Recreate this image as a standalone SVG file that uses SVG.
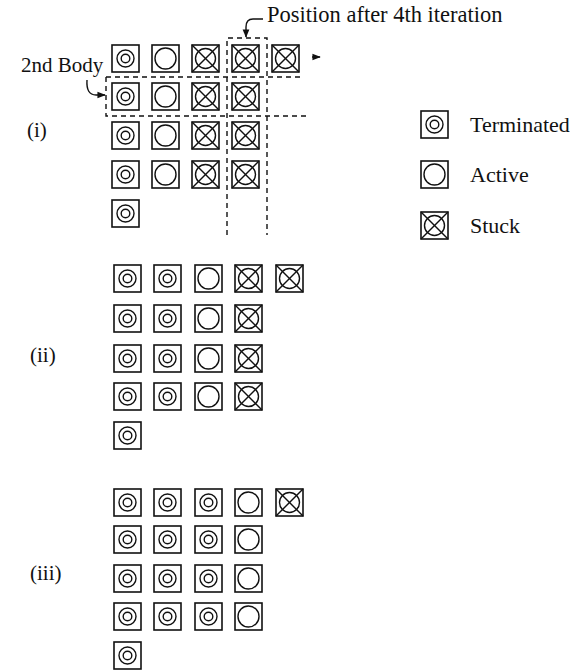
<svg xmlns="http://www.w3.org/2000/svg" width="576" height="671" viewBox="0 0 576 671">
  <style>
    .lbl { font-family: "Liberation Serif", "Times New Roman", serif; fill: #111; }
    .cell rect { fill: #fff; stroke: #111; stroke-width: 1.6; }
    .cell circle, .cell line { fill: none; stroke: #111; stroke-width: 1.4; }
    .dash { fill: none; stroke: #111; stroke-width: 1.4; stroke-dasharray: 5 4; }
    .hook { fill: none; stroke: #111; stroke-width: 1.4; }
  </style>
  <defs>
    <!-- cell states, 27x27, origin at top-left -->
    <g id="term" class="cell">
      <rect x="0" y="0" width="27" height="27"/>
      <circle cx="13.5" cy="13.5" r="8.5"/>
      <circle cx="13.5" cy="13.5" r="4.3"/>
    </g>
    <g id="act" class="cell">
      <rect x="0" y="0" width="27" height="27"/>
      <circle cx="13.5" cy="13.5" r="10.5"/>
    </g>
    <g id="stuck" class="cell">
      <rect x="0" y="0" width="27" height="27"/>
      <circle cx="13.5" cy="13.5" r="10"/>
      <line x1="0" y1="0" x2="27" y2="27"/>
      <line x1="27" y1="0" x2="0" y2="27"/>
    </g>
    <marker id="ah" viewBox="0 0 10 10" refX="9" refY="5" markerWidth="6" markerHeight="6" orient="auto">
      <path d="M0,1 L10,5 L0,9 Z" fill="#111"/>
    </marker>
  </defs>

  <!-- labels -->
  <text class="lbl" x="267" y="22" font-size="22.5">Position after 4th iteration</text>
  <text class="lbl" x="21" y="72" font-size="21">2nd Body</text>
  <text class="lbl" x="27" y="137" font-size="21">(i)</text>
  <text class="lbl" x="30" y="362" font-size="21">(ii)</text>
  <text class="lbl" x="30" y="580" font-size="21">(iii)</text>

  <!-- connectors: dashed frames and pointer hooks -->
  <g id="connectors">
    <path class="dash" d="M227,235 V38 H267 V235"/>
    <path class="dash" d="M106,77 H304"/>
    <path class="dash" d="M106,77 V116 H306"/>
    <path class="hook" d="M263,19 H253 Q246,19 246,27 V37" marker-end="url(#ah)"/>
    <path class="hook" d="M87,80 Q86,95 96,95 L105,95" marker-end="url(#ah)"/>
    <path class="hook" d="M312,57 L320,57" marker-end="url(#ah)"/>
  </g>

  <!-- stage (i) -->
  <g id="stage-i">
    <g id="i-r1"><use href="#term" x="112" y="45"/><use href="#act" x="152" y="45"/><use href="#stuck" x="192" y="45"/><use href="#stuck" x="232" y="45"/><use href="#stuck" x="272" y="45"/></g>
    <g id="i-r2"><use href="#term" x="112" y="83"/><use href="#act" x="152" y="83"/><use href="#stuck" x="192" y="83"/><use href="#stuck" x="232" y="83"/></g>
    <g id="i-r3"><use href="#term" x="112" y="122"/><use href="#act" x="152" y="122"/><use href="#stuck" x="192" y="122"/><use href="#stuck" x="232" y="122"/></g>
    <g id="i-r4"><use href="#term" x="112" y="161"/><use href="#act" x="152" y="161"/><use href="#stuck" x="192" y="161"/><use href="#stuck" x="232" y="161"/></g>
    <g id="i-r5"><use href="#term" x="112" y="200"/></g>
  </g>

  <!-- stage (ii) -->
  <g id="stage-ii">
    <g id="ii-r1"><use href="#term" x="114" y="265"/><use href="#term" x="154" y="265"/><use href="#act" x="195" y="265"/><use href="#stuck" x="235" y="265"/><use href="#stuck" x="276" y="265"/></g>
    <g id="ii-r2"><use href="#term" x="114" y="305"/><use href="#term" x="154" y="305"/><use href="#act" x="195" y="305"/><use href="#stuck" x="235" y="305"/></g>
    <g id="ii-r3"><use href="#term" x="114" y="345"/><use href="#term" x="154" y="345"/><use href="#act" x="195" y="345"/><use href="#stuck" x="235" y="345"/></g>
    <g id="ii-r4"><use href="#term" x="114" y="383"/><use href="#term" x="154" y="383"/><use href="#act" x="195" y="383"/><use href="#stuck" x="235" y="383"/></g>
    <g id="ii-r5"><use href="#term" x="114" y="422"/></g>
  </g>

  <!-- stage (iii) -->
  <g id="stage-iii">
    <g id="iii-r1"><use href="#term" x="114" y="489"/><use href="#term" x="154" y="489"/><use href="#term" x="195" y="489"/><use href="#act" x="235" y="489"/><use href="#stuck" x="276" y="489"/></g>
    <g id="iii-r2"><use href="#term" x="114" y="526"/><use href="#term" x="154" y="526"/><use href="#term" x="195" y="526"/><use href="#act" x="235" y="526"/></g>
    <g id="iii-r3"><use href="#term" x="114" y="565"/><use href="#term" x="154" y="565"/><use href="#term" x="195" y="565"/><use href="#act" x="235" y="565"/></g>
    <g id="iii-r4"><use href="#term" x="114" y="603"/><use href="#term" x="154" y="603"/><use href="#term" x="195" y="603"/><use href="#act" x="235" y="603"/></g>
    <g id="iii-r5"><use href="#term" x="114" y="642"/></g>
  </g>

  <!-- legend -->
  <g id="legend-terminated"><use href="#term" x="421" y="111"/><text class="lbl" x="470" y="132" font-size="22">Terminated</text></g>
  <g id="legend-active"><use href="#act" x="421" y="161"/><text class="lbl" x="470" y="182" font-size="22">Active</text></g>
  <g id="legend-stuck"><use href="#stuck" x="421" y="212"/><text class="lbl" x="470" y="233" font-size="22">Stuck</text></g>
</svg>
